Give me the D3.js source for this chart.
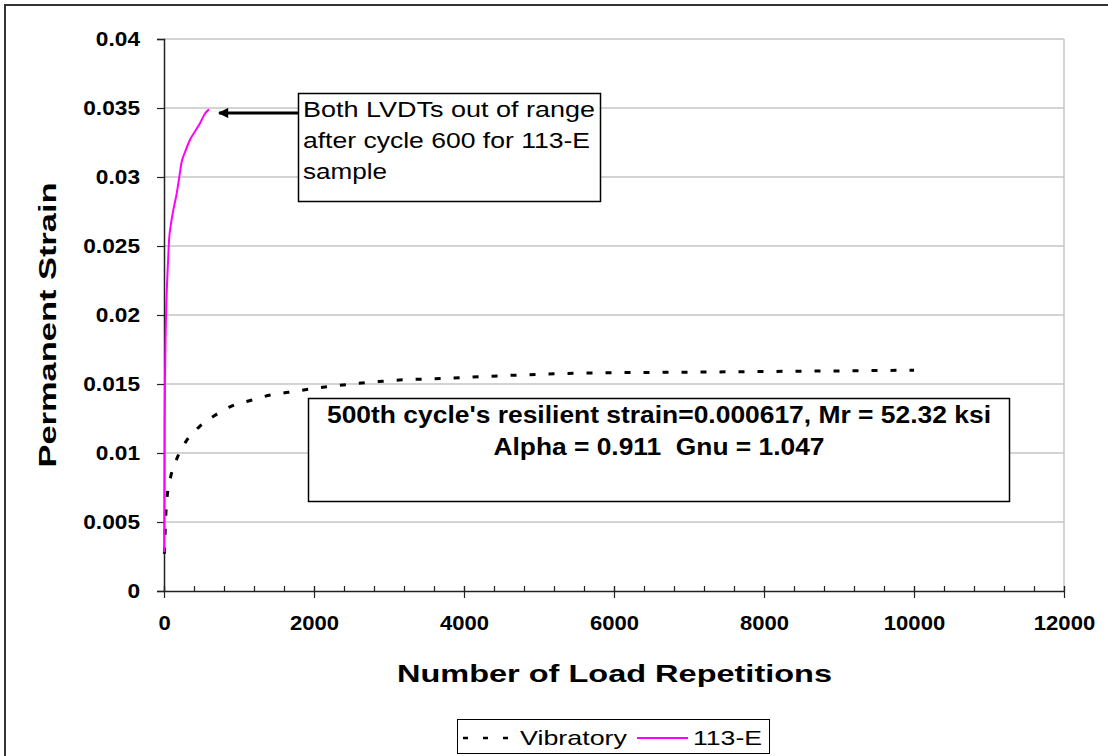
<!DOCTYPE html>
<meta charset="utf-8">
<head>
    <title>Permanent Strain vs Load Repetitions</title>
    <style>
        body { margin: 0; background: #fff; }
        svg { display: block; }
        text { font-family: Arial, "Liberation Sans", sans-serif; fill: #000; white-space: pre; }
    </style>
</head>
<body>
<div id="chart"></div>

<script src="https://cdn.jsdelivr.net/npm/d3@7"></script>
<script>

    // vibratory compaction sample
    var vibCycles = [5, 15, 25, 45, 90, 180, 300, 470, 670, 900, 1150, 1420, 1660, 1900, 2170, 2430,
                     2680, 2920, 3180, 3440, 3700, 4500, 5700, 6800, 7900, 9000, 10000];
    var vibStrain = [0.0027, 0.0042, 0.0056, 0.0070, 0.0083, 0.0097, 0.0109, 0.0119, 0.0127, 0.0134, 0.0138, 0.0142,
                     0.0144, 0.0146, 0.0148, 0.01495, 0.0151, 0.0152, 0.0153, 0.01535, 0.0154, 0.0156, 0.0158,
                     0.01585, 0.0159, 0.01595, 0.0160];

    // 113-E sample (LVDTs out of range after cycle 600)
    var e113Cycles = [2, 5, 10, 15, 20, 27, 40, 49, 67, 93, 124, 169, 204, 236, 280, 347, 413, 480, 547, 600];
    var e113Strain = [0.0028, 0.0060, 0.0130, 0.0160, 0.0180, 0.0199, 0.0222, 0.0233, 0.0254, 0.0266, 0.0276,
                      0.0288, 0.0300, 0.0311, 0.0318, 0.0327, 0.0333, 0.0339, 0.0346, 0.0349];

    var xTicks = [0, 2000, 4000, 6000, 8000, 10000, 12000];
    var xMinor = d3.range(0, 12001, 400);
    var yTicks = [0, 0.005, 0.01, 0.015, 0.02, 0.025, 0.03, 0.035, 0.04];
    var yTickLabels = ["0", "0.005", "0.01", "0.015", "0.02", "0.025", "0.03", "0.035", "0.04"];

    var seriesNames = ["Vibratory", "113-E"];
    var noteLines = ["Both LVDTs out of range", "after cycle 600 for 113-E", "sample"];
    var statLines = ["500th cycle's resilient strain=0.000617, Mr = 52.32 ksi", "Alpha = 0.911  Gnu = 1.047"];

    var vibData = vibCycles.map(function(c, i) { return {x: c, y: vibStrain[i]}; });
    var e113Data = e113Cycles.map(function(c, i) { return {x: c, y: e113Strain[i]}; });

    var margin = {top: 39, left: 164},
        width = 900,
        height = 552;

    // widen glyphs a little, the way the old chart renderer drew them
    function widen(sel, k) {
        sel.each(function() {
            var w = this.getComputedTextLength();
            d3.select(this).attr("textLength", w * k).attr("lengthAdjust", "spacingAndGlyphs");
        });
    }

    var root = d3.select("#chart")
      .append("svg")
        .attr("width", 1108)
        .attr("height", 756);

    // outer chart frame, right and bottom edges run off the page
    root.append("rect")
        .attr("x", 5).attr("y", 5)
        .attr("width", 1300).attr("height", 1000)
        .attr("fill", "#fff")
        .attr("stroke", "#333")
        .attr("stroke-width", 2);

    var svg = root.append("g")
        .attr("transform", "translate(" + margin.left + "," + margin.top + ")");

    var x = d3.scaleLinear().domain([0, 12000]).range([0, width]);
    var y = d3.scaleLinear().domain([0, 0.04]).range([height, 0]);

    // gridlines
    svg.append("g")
      .selectAll("line")
      .data(yTicks.slice(1))
      .join("line")
        .attr("x1", 0).attr("x2", width)
        .attr("y1", function(d) { return y(d); })
        .attr("y2", function(d) { return y(d); })
        .attr("stroke", "#c4c4c4")
        .attr("stroke-width", 1.5);

    svg.append("line")
        .attr("x1", width).attr("x2", width)
        .attr("y1", 0).attr("y2", height)
        .attr("stroke", "#c4c4c4")
        .attr("stroke-width", 1.5);

    // y axis
    var yAxis = svg.append("g")
        .call(d3.axisLeft(y).tickValues(yTicks).tickSize(7).tickPadding(17)
            .tickFormat(function(d, i) { return yTickLabels[i]; }));
    yAxis.select(".domain").attr("stroke", "#222").attr("stroke-width", 1.5);
    yAxis.selectAll(".tick line").attr("stroke", "#222").attr("stroke-width", 1.2);
    yAxis.selectAll("text")
        .style("font-size", "21px").style("font-weight", "bold")
        .attr("fill", "#000")
        .call(widen, 1.08);

    // x axis: minor ticks inside, major ticks crossing
    var xMinorAxis = svg.append("g")
        .attr("transform", "translate(0," + height + ")")
        .call(d3.axisBottom(x).tickValues(xMinor).tickSize(-5).tickFormat(""));
    xMinorAxis.select(".domain").remove();
    xMinorAxis.selectAll(".tick line").attr("stroke", "#222").attr("stroke-width", 1.2);

    var xAxis = svg.append("g")
        .attr("transform", "translate(0," + height + ")")
        .call(d3.axisBottom(x).tickValues(xTicks).tickSizeOuter(0).tickFormat(d3.format("d")));
    xAxis.select(".domain").attr("stroke", "#222").attr("stroke-width", 1.5);
    xAxis.selectAll(".tick line")
        .attr("y1", -5).attr("y2", 7)
        .attr("stroke", "#222").attr("stroke-width", 1.2);
    xAxis.selectAll("text")
        .attr("y", 39).attr("dy", null)
        .style("font-size", "21px").style("font-weight", "bold")
        .attr("fill", "#000")
        .call(widen, 1.05);

    // series
    var line = d3.line()
        .x(function(d) { return x(d.x); })
        .y(function(d) { return y(d.y); })
        .curve(d3.curveMonotoneX);

    svg.append("path")
        .datum(vibData)
        .attr("fill", "none")
        .attr("stroke", "#000")
        .attr("stroke-width", 3)
        .attr("stroke-dasharray", "6,13")
        .attr("d", line);

    svg.append("path")
        .datum(e113Data)
        .attr("fill", "none")
        .attr("stroke", "#ff00ff")
        .attr("stroke-width", 2)
        .attr("d", line);

    // axis titles
    root.append("text")
        .attr("x", 397).attr("y", 682)
        .attr("textLength", 435).attr("lengthAdjust", "spacingAndGlyphs")
        .style("font-size", "24px").style("font-weight", "bold")
        .text("Number of Load Repetitions");

    root.append("text")
        .attr("transform", "translate(56,325) rotate(-90)")
        .attr("text-anchor", "middle")
        .attr("textLength", 285).attr("lengthAdjust", "spacingAndGlyphs")
        .style("font-size", "24px").style("font-weight", "bold")
        .text("Permanent Strain");

    // note box with arrow to the end of the 113-E curve
    root.append("defs").append("marker")
        .attr("id", "head")
        .attr("viewBox", "0 0 10 10")
        .attr("refX", 9).attr("refY", 5)
        .attr("markerWidth", 4).attr("markerHeight", 3.2)
        .attr("orient", "auto")
      .append("path")
        .attr("d", "M0,0 L10,5 L0,10 z")
        .attr("fill", "#000");

    root.append("line")
        .attr("x1", 298).attr("y1", 113)
        .attr("x2", 219).attr("y2", 113)
        .attr("stroke", "#000")
        .attr("stroke-width", 3.2)
        .attr("marker-end", "url(#head)");

    root.append("rect")
        .attr("x", 298.5).attr("y", 93.5)
        .attr("width", 302).attr("height", 108)
        .attr("fill", "#fff")
        .attr("stroke", "#000")
        .attr("stroke-width", 1.5);

    var noteWidths = [292, 287, 84];
    root.append("g")
      .selectAll("text")
      .data(noteLines)
      .join("text")
        .attr("x", 303)
        .attr("y", function(d, i) { return 117 + i * 31; })
        .attr("textLength", function(d, i) { return noteWidths[i]; })
        .attr("lengthAdjust", "spacingAndGlyphs")
        .style("font-size", "22px")
        .text(function(d) { return d; });

    // model parameters box
    root.append("rect")
        .attr("x", 308.5).attr("y", 398.5)
        .attr("width", 701).attr("height", 103)
        .attr("fill", "#fff")
        .attr("stroke", "#000")
        .attr("stroke-width", 1.5);

    var statWidths = [664, 331];
    root.append("g")
      .selectAll("text")
      .data(statLines)
      .join("text")
        .attr("x", 659)
        .attr("y", function(d, i) { return 423 + i * 32; })
        .attr("text-anchor", "middle")
        .attr("textLength", function(d, i) { return statWidths[i]; })
        .attr("lengthAdjust", "spacingAndGlyphs")
        .style("font-size", "23px").style("font-weight", "bold")
        .text(function(d) { return d; });

    // legend
    var legend = root.append("g");
    legend.append("rect")
        .attr("x", 457.5).attr("y", 719.5)
        .attr("width", 312).attr("height", 34)
        .attr("fill", "#fff")
        .attr("stroke", "#000")
        .attr("stroke-width", 1);

    legend.append("line")
        .attr("x1", 463).attr("x2", 512)
        .attr("y1", 738).attr("y2", 738)
        .attr("stroke", "#000")
        .attr("stroke-width", 2.5)
        .attr("stroke-dasharray", "5,15");
    legend.append("text")
        .attr("x", 520).attr("y", 745)
        .attr("textLength", 107).attr("lengthAdjust", "spacingAndGlyphs")
        .style("font-size", "21px")
        .text(seriesNames[0]);

    legend.append("line")
        .attr("x1", 637).attr("x2", 688)
        .attr("y1", 738).attr("y2", 738)
        .attr("stroke", "#ff00ff")
        .attr("stroke-width", 2);
    legend.append("text")
        .attr("x", 693).attr("y", 745)
        .attr("textLength", 69).attr("lengthAdjust", "spacingAndGlyphs")
        .style("font-size", "21px")
        .text(seriesNames[1]);
</script>
</body>
